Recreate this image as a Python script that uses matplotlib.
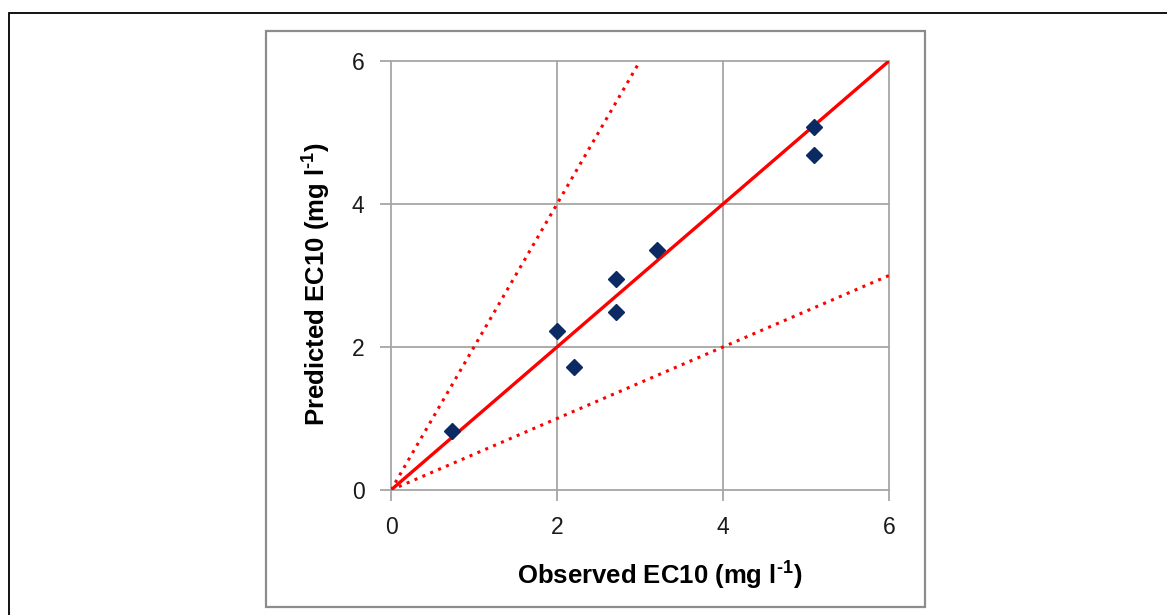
import matplotlib
matplotlib.use("Agg")
import matplotlib.pyplot as plt
from matplotlib.patches import Rectangle

plt.rcParams['font.family'] = ['Liberation Sans', 'DejaVu Sans']
plt.rcParams['mathtext.fontset'] = 'custom'
plt.rcParams['mathtext.rm'] = 'Liberation Sans:bold'

# observed vs predicted EC10 (mg/l)
observed = [0.74, 2.00, 2.21, 2.71, 2.71, 3.20, 5.10, 5.10]
predicted = [0.82, 2.23, 1.72, 2.95, 2.49, 3.36, 5.08, 4.69]

ticks = [0, 2, 4, 6]
one_to_one = [0, 6]
factor_up = [0, 3]      # x-range of the 2:1 line
factor_down = [0, 6]    # x-range of the 1:2 line

fig = plt.figure(figsize=(11.67, 6.15), dpi=100)
fig.patch.set_facecolor('white')

# outer frame and chart box
fig.patches.append(Rectangle((9 / 1167, -0.1), 1.2, 1 - 13 / 615 + 0.1,
                             transform=fig.transFigure, fill=False,
                             edgecolor='black', linewidth=1.3))
fig.patches.append(Rectangle((266 / 1167, 1 - 607 / 615), (925 - 266) / 1167,
                             (607 - 31) / 615, transform=fig.transFigure,
                             fill=False, edgecolor='#8c8c8c', linewidth=1.6))

ax = fig.add_axes([391 / 1167, 1 - 490 / 615, 498 / 1167, 429 / 615])
ax.set_xlim(0, 6)
ax.set_ylim(0, 6)

grid_c = '#a6a6a6'
for t in ticks[1:]:
    ax.axvline(t, color=grid_c, linewidth=1.3, zorder=1, clip_on=False)
    ax.axhline(t, color=grid_c, linewidth=1.3, zorder=1, clip_on=False)

ax.plot(one_to_one, one_to_one, color='red', linewidth=2.4, zorder=3)
ax.plot(factor_up, [2 * v for v in factor_up], color='red', linewidth=2.2,
        linestyle=(0, (1, 1.8)), zorder=3)
ax.plot(factor_down, [v / 2 for v in factor_down], color='red', linewidth=2.2,
        linestyle=(0, (1, 1.8)), zorder=3)

ax.plot(observed, predicted, linestyle='none', marker='D', markersize=8.5,
        color='#0b2a63', zorder=4, clip_on=False)

for side in ['top', 'right']:
    ax.spines[side].set_visible(False)
for side in ['left', 'bottom']:
    ax.spines[side].set_color(grid_c)
    ax.spines[side].set_linewidth(1.3)

ax.set_xticks(ticks)
ax.set_yticks(ticks)
ax.tick_params(axis='both', direction='out', length=8, width=1.3,
               color=grid_c, labelsize=16.5, labelcolor='#1a1a1a', pad=11)

ax.set_xlabel(r'Observed EC10 (mg l$^{\text{-1}}$)', fontsize=18.5,
              fontweight='bold')
ax.set_ylabel(r'Predicted EC10 (mg l$^{\text{-1}}$)', fontsize=18.5,
              fontweight='bold')
ax.xaxis.set_label_coords(0.54, -0.158)
ax.yaxis.set_label_coords(-0.118, 0.48)

fig.savefig('out.png', dpi=100, facecolor='white')
